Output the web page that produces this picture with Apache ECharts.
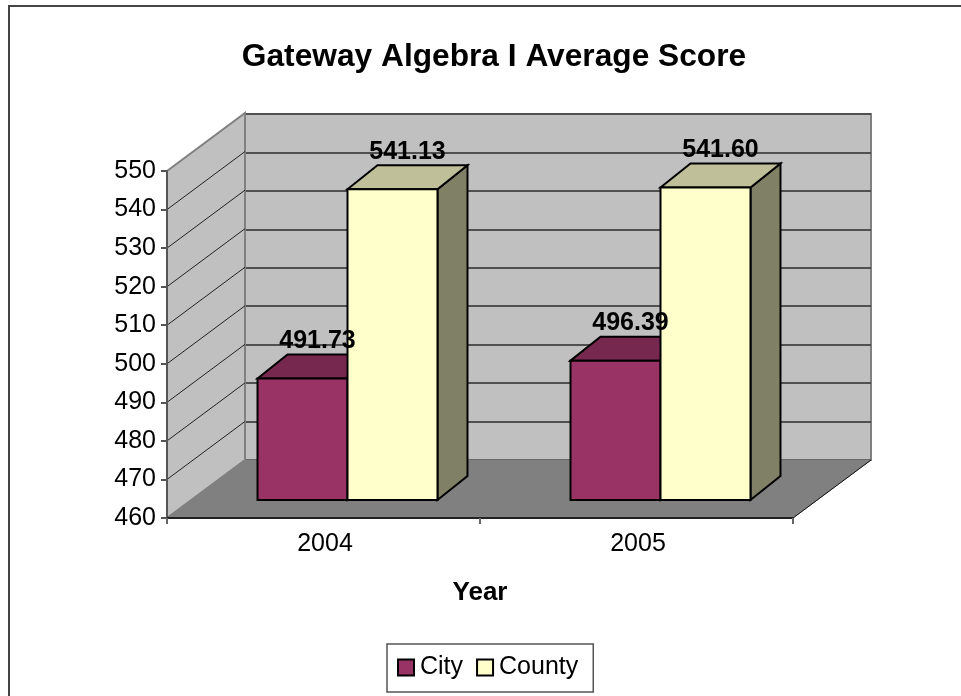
<!DOCTYPE html>
<html>
<head>
<meta charset="utf-8">
<title>Gateway Algebra I Average Score</title>
<style>
  html, body { margin: 0; padding: 0; background: #fff; }
  #chart { width: 961px; height: 696px; }
</style>
<script src="https://cdn.jsdelivr.net/npm/echarts@6/dist/echarts.min.js"></script>
</head>
<body>
<div id="chart"></div>
<script>
const years = ['2004', '2005'];
const cityScores = [491.73, 496.39];
const countyScores = [541.13, 541.60];
const yMin = 460;
const yMax = 550;
const yStep = 10;
const gridTicks = [470, 480, 490, 500, 510, 520, 530, 540];

const FONT = '"Liberation Sans", Arial, sans-serif';
// offset of the back wall from the front plane
const WALL_DX = 78;
const WALL_DY = -58;
// offset of the bar's back face from its front face
const BAR_DX = 30;
const BAR_DY = -24;

function renderWalls(params, api) {
    const c = params.coordSys;
    const left = c.x, right = c.x + c.width, top = c.y, bottom = c.y + c.height;
    const children = [
        { type: 'polygon', shape: { points: [[left, top], [left + WALL_DX, top + WALL_DY], [left + WALL_DX, bottom + WALL_DY], [left, bottom]] },
          style: { fill: '#c0c0c0', stroke: '#808080', lineWidth: 2 } },
        { type: 'polygon', shape: { points: [[left, bottom], [left + WALL_DX, bottom + WALL_DY], [right + WALL_DX, bottom + WALL_DY], [right, bottom]] },
          style: { fill: '#808080', stroke: '#808080', lineWidth: 1 } },
        { type: 'line', shape: { x1: right, y1: bottom, x2: right + WALL_DX, y2: bottom + WALL_DY },
          style: { stroke: '#111', lineWidth: 1 } }
    ];
    gridTicks.forEach(t => {
        const y = api.coord([0, t])[1];
        children.push({ type: 'line', shape: { x1: left, y1: y, x2: left + WALL_DX, y2: y + WALL_DY },
            style: { stroke: '#222', lineWidth: 1 } });
    });
    return { type: 'group', children: children };
}

// side: -1 draws left of the category centre, 0 right of it
function barRenderer(side, frontColor, topColor, sideColor) {
    return function (params, api) {
        const idx = api.value(0);
        const w = api.size([1, 0])[0] * 0.2875;
        const centre = api.coord([idx, api.value(1)]);
        const base = api.coord([idx, yMin]);
        const x0 = centre[0] + side * w, x1 = x0 + w;
        const yt = centre[1], yb = base[1];
        const line = { stroke: '#000', lineWidth: 2, lineJoin: 'miter' };
        return { type: 'group', children: [
            { type: 'polygon', shape: { points: [[x1, yt], [x1 + BAR_DX, yt + BAR_DY], [x1 + BAR_DX, yb + BAR_DY], [x1, yb]] },
              style: Object.assign({ fill: sideColor }, line) },
            { type: 'polygon', shape: { points: [[x0, yt], [x0 + BAR_DX, yt + BAR_DY], [x1 + BAR_DX, yt + BAR_DY], [x1, yt]] },
              style: Object.assign({ fill: topColor }, line) },
            { type: 'rect', shape: { x: x0, y: yt, width: w, height: yb - yt },
              style: Object.assign({ fill: frontColor }, line) }
        ] };
    };
}

function labelRenderer(side) {
    return function (params, api) {
        const idx = api.value(0);
        const w = api.size([1, 0])[0] * 0.2875;
        const p = api.coord([idx, api.value(1)]);
        return { type: 'text', x: p[0] + side * w + w / 2 + 15, y: p[1] - 25,
            style: { text: api.value(1).toFixed(2), font: 'bold 25px ' + FONT, fill: '#000',
                     textAlign: 'center', textVerticalAlign: 'bottom' } };
    };
}

const chart = echarts.init(document.getElementById('chart'));

chart.setOption({
    animation: false,
    backgroundColor: '#fff',
    title: {
        text: 'Gateway Algebra I Average Score',
        left: 489, top: 36, textAlign: 'center',
        textStyle: { fontFamily: FONT, fontWeight: 'bold', fontSize: 31.7, color: '#000' }
    },
    legend: {
        left: 387, top: 644, orient: 'horizontal',
        data: ['City', 'County'],
        icon: 'rect', itemWidth: 16, itemHeight: 16, itemGap: 13,
        padding: [11, 15, 12, 10],
        backgroundColor: '#fff', borderColor: '#555', borderWidth: 1.5,
        itemStyle: { borderColor: '#000', borderWidth: 2 },
        textStyle: { fontFamily: FONT, fontSize: 25, color: '#000', padding: [0, 0, 6, 1] }
    },
    graphic: [{
        type: 'polyline', silent: true, z: -1,
        shape: { points: [[9, 696], [9, 6], [961, 6]] },
        style: { fill: null, stroke: '#444', lineWidth: 2 }
    }],
    grid: [
        // back wall
        { left: 245, top: 114, width: 626, height: 346, show: true, backgroundColor: '#c0c0c0', borderColor: '#808080', borderWidth: 2 },
        // front plane, carries the visible axes
        { left: 167, top: 171, width: 626, height: 347 },
        // plane of the bars' front faces
        { left: 191, top: 155.3, width: 626, height: 344.7 }
    ],
    xAxis: [
        { gridIndex: 0, type: 'category', data: years, show: false },
        { gridIndex: 1, type: 'category', data: years, z: 6,
          axisLine: { lineStyle: { color: '#222', width: 2 } },
          axisTick: { show: true, length: 6, alignWithLabel: false, lineStyle: { color: '#666', width: 2 } },
          axisLabel: { margin: 14, padding: [0, 0, 0, 3], fontFamily: FONT, fontSize: 25, color: '#000' },
          name: 'Year', nameLocation: 'middle', nameGap: 62,
          nameTextStyle: { fontFamily: FONT, fontWeight: 'bold', fontSize: 26, color: '#000' } },
        { gridIndex: 2, type: 'category', data: years, show: false }
    ],
    yAxis: [
        { gridIndex: 0, type: 'value', min: yMin, max: yMax, interval: yStep,
          axisLine: { show: false }, axisTick: { show: false }, axisLabel: { show: false },
          splitLine: { show: true, lineStyle: { color: '#505050', width: 2 } } },
        { gridIndex: 1, type: 'value', min: yMin, max: yMax, interval: yStep, z: 6,
          axisLine: { show: true, lineStyle: { color: '#555', width: 2 } },
          axisTick: { show: true, length: 6, lineStyle: { color: '#555', width: 2 } },
          axisLabel: { margin: 11, fontFamily: FONT, fontSize: 25, color: '#000' },
          splitLine: { show: false } },
        { gridIndex: 2, type: 'value', min: yMin, max: yMax, show: false, splitLine: { show: false } }
    ],
    series: [
        { type: 'custom', name: 'walls', xAxisIndex: 1, yAxisIndex: 1, z: 2, silent: true,
          renderItem: renderWalls, data: [[0, yMin]] },
        { type: 'custom', name: 'City', xAxisIndex: 2, yAxisIndex: 2, z: 3,
          itemStyle: { color: '#993366' },
          renderItem: barRenderer(-1, '#993366', '#77284f', '#5c1f3d'),
          encode: { x: 0, y: 1 }, data: cityScores.map((v, i) => [i, v]) },
        { type: 'custom', name: 'County', xAxisIndex: 2, yAxisIndex: 2, z: 4,
          itemStyle: { color: '#ffffcc' },
          renderItem: barRenderer(0, '#ffffcc', '#bfbf99', '#808066'),
          encode: { x: 0, y: 1 }, data: countyScores.map((v, i) => [i, v]) },
        { type: 'custom', name: 'cityLabels', xAxisIndex: 2, yAxisIndex: 2, z: 7, silent: true,
          renderItem: labelRenderer(-1), data: cityScores.map((v, i) => [i, v]) },
        { type: 'custom', name: 'countyLabels', xAxisIndex: 2, yAxisIndex: 2, z: 7, silent: true,
          renderItem: labelRenderer(0), data: countyScores.map((v, i) => [i, v]) }
    ]
});
</script>
</body>
</html>
